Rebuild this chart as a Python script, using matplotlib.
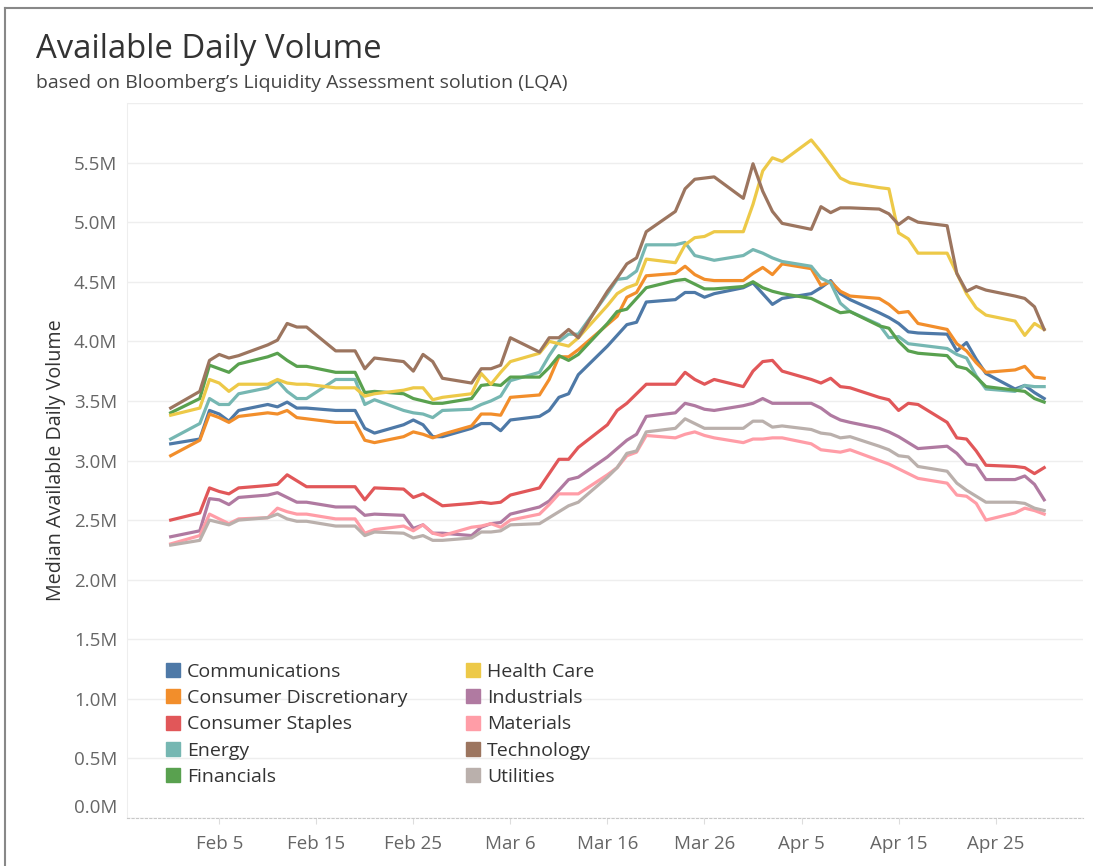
import numpy as np
import pandas as pd
import matplotlib
matplotlib.use("Agg")
import matplotlib.pyplot as plt
import matplotlib.transforms as mtransforms
from matplotlib.lines import Line2D

# business days, Jan 31 - Apr 30 2020
dates = pd.bdate_range("2020-01-31", "2020-04-30")

# median available daily volume, in millions
communications = [3.14, 3.18, 3.42, 3.39, 3.33, 3.42, 3.47, 3.45, 3.49, 3.44,
                  3.44, 3.42, 3.42, 3.42, 3.27, 3.23, 3.30, 3.34, 3.30, 3.20,
                  3.20, 3.27, 3.31, 3.31, 3.25, 3.34, 3.37, 3.42, 3.53, 3.56,
                  3.72, 3.96, 4.05, 4.14, 4.16, 4.33, 4.35, 4.41, 4.41, 4.37,
                  4.40, 4.45, 4.49, 4.40, 4.31, 4.36, 4.40, 4.45, 4.51, 4.40,
                  4.35, 4.24, 4.20, 4.15, 4.08, 4.07, 4.06, 3.92, 3.99, 3.85,
                  3.73, 3.60, 3.63, 3.57, 3.52]
consumer_disc = [3.04, 3.17, 3.39, 3.36, 3.32, 3.37, 3.40, 3.39, 3.42, 3.36,
                 3.35, 3.32, 3.32, 3.32, 3.17, 3.15, 3.20, 3.24, 3.22, 3.19,
                 3.22, 3.29, 3.39, 3.39, 3.38, 3.53, 3.55, 3.68, 3.87, 3.87,
                 3.93, 4.14, 4.21, 4.37, 4.41, 4.55, 4.57, 4.63, 4.56, 4.52,
                 4.51, 4.51, 4.57, 4.62, 4.56, 4.65, 4.61, 4.47, 4.50, 4.42,
                 4.38, 4.36, 4.31, 4.24, 4.25, 4.15, 4.10, 3.98, 3.92, 3.82,
                 3.74, 3.76, 3.79, 3.70, 3.69]
consumer_staples = [2.50, 2.56, 2.77, 2.74, 2.72, 2.77, 2.79, 2.80, 2.88, 2.83,
                    2.78, 2.78, 2.78, 2.78, 2.67, 2.77, 2.76, 2.69, 2.72, 2.67,
                    2.62, 2.64, 2.65, 2.64, 2.65, 2.71, 2.77, 2.89, 3.01, 3.01,
                    3.11, 3.30, 3.42, 3.48, 3.56, 3.64, 3.64, 3.74, 3.68, 3.64,
                    3.68, 3.62, 3.75, 3.83, 3.84, 3.75, 3.68, 3.65, 3.69, 3.62,
                    3.61, 3.53, 3.51, 3.42, 3.48, 3.47, 3.32, 3.19, 3.18, 3.08,
                    2.96, 2.95, 2.94, 2.89, 2.94]
energy = [3.18, 3.31, 3.52, 3.47, 3.47, 3.56, 3.61, 3.67, 3.58, 3.52,
          3.52, 3.68, 3.68, 3.68, 3.47, 3.51, 3.42, 3.40, 3.39, 3.36,
          3.42, 3.43, 3.47, 3.50, 3.54, 3.67, 3.74, 3.88, 4.00, 4.06,
          4.06, 4.40, 4.52, 4.53, 4.59, 4.81, 4.81, 4.83, 4.72, 4.70,
          4.68, 4.72, 4.77, 4.74, 4.70, 4.67, 4.63, 4.53, 4.49, 4.32,
          4.25, 4.14, 4.03, 4.04, 3.98, 3.97, 3.94, 3.89, 3.86, 3.71,
          3.60, 3.58, 3.63, 3.62, 3.62]
financials = [3.40, 3.52, 3.80, 3.77, 3.74, 3.81, 3.87, 3.90, 3.84, 3.79,
              3.79, 3.74, 3.74, 3.74, 3.57, 3.58, 3.56, 3.52, 3.50, 3.48,
              3.48, 3.52, 3.63, 3.64, 3.63, 3.70, 3.70, 3.78, 3.88, 3.84,
              3.89, 4.15, 4.25, 4.27, 4.36, 4.45, 4.51, 4.52, 4.48, 4.44,
              4.44, 4.46, 4.50, 4.45, 4.42, 4.40, 4.36, 4.32, 4.28, 4.24,
              4.25, 4.13, 4.11, 4.00, 3.92, 3.90, 3.88, 3.79, 3.77, 3.70,
              3.62, 3.59, 3.58, 3.52, 3.49]
health_care = [3.38, 3.44, 3.68, 3.65, 3.58, 3.64, 3.64, 3.68, 3.65, 3.64,
               3.64, 3.61, 3.61, 3.61, 3.54, 3.56, 3.59, 3.61, 3.61, 3.51,
               3.53, 3.56, 3.73, 3.64, 3.74, 3.83, 3.90, 4.00, 3.98, 3.96,
               4.03, 4.30, 4.40, 4.45, 4.48, 4.69, 4.66, 4.81, 4.87, 4.88,
               4.92, 4.92, 5.15, 5.43, 5.54, 5.51, 5.69, 5.59, 5.48, 5.37,
               5.33, 5.29, 5.28, 4.91, 4.86, 4.74, 4.74, 4.57, 4.40, 4.28,
               4.22, 4.17, 4.05, 4.15, 4.10]
industrials = [2.36, 2.41, 2.68, 2.67, 2.63, 2.69, 2.71, 2.73, 2.69, 2.65,
               2.65, 2.61, 2.61, 2.61, 2.54, 2.55, 2.54, 2.43, 2.46, 2.39,
               2.39, 2.37, 2.44, 2.47, 2.48, 2.55, 2.61, 2.66, 2.75, 2.84,
               2.86, 3.03, 3.10, 3.17, 3.22, 3.37, 3.40, 3.48, 3.46, 3.43,
               3.42, 3.46, 3.48, 3.52, 3.48, 3.48, 3.48, 3.44, 3.38, 3.34,
               3.32, 3.27, 3.24, 3.20, 3.15, 3.10, 3.12, 3.06, 2.97, 2.96,
               2.84, 2.84, 2.87, 2.80, 2.67]
materials = [2.30, 2.37, 2.55, 2.51, 2.47, 2.51, 2.52, 2.60, 2.57, 2.55,
             2.55, 2.51, 2.51, 2.51, 2.39, 2.42, 2.45, 2.41, 2.46, 2.39,
             2.37, 2.44, 2.45, 2.47, 2.44, 2.50, 2.55, 2.63, 2.72, 2.72,
             2.72, 2.88, 2.94, 3.04, 3.07, 3.21, 3.19, 3.22, 3.24, 3.21,
             3.19, 3.15, 3.18, 3.18, 3.19, 3.19, 3.14, 3.09, 3.08, 3.07,
             3.09, 3.00, 2.97, 2.93, 2.89, 2.85, 2.81, 2.71, 2.70, 2.64,
             2.50, 2.56, 2.60, 2.58, 2.55]
technology = [3.44, 3.58, 3.84, 3.89, 3.86, 3.88, 3.97, 4.01, 4.15, 4.12,
              4.12, 3.92, 3.92, 3.92, 3.77, 3.86, 3.83, 3.75, 3.89, 3.83,
              3.69, 3.65, 3.77, 3.77, 3.80, 4.03, 3.91, 4.03, 4.03, 4.10,
              4.03, 4.42, 4.53, 4.65, 4.70, 4.92, 5.09, 5.28, 5.36, 5.37,
              5.38, 5.20, 5.49, 5.26, 5.09, 4.99, 4.94, 5.13, 5.08, 5.12,
              5.12, 5.11, 5.07, 4.98, 5.04, 5.00, 4.97, 4.57, 4.42, 4.46,
              4.43, 4.38, 4.36, 4.29, 4.10]
utilities = [2.29, 2.33, 2.50, 2.48, 2.46, 2.50, 2.52, 2.55, 2.51, 2.49,
             2.49, 2.45, 2.45, 2.45, 2.37, 2.40, 2.39, 2.35, 2.37, 2.33,
             2.33, 2.35, 2.40, 2.40, 2.41, 2.46, 2.47, 2.52, 2.57, 2.62,
             2.65, 2.86, 2.94, 3.06, 3.08, 3.24, 3.27, 3.35, 3.31, 3.27,
             3.27, 3.27, 3.33, 3.33, 3.28, 3.29, 3.26, 3.23, 3.22, 3.19,
             3.20, 3.12, 3.09, 3.04, 3.03, 2.95, 2.91, 2.81, 2.75, 2.70,
             2.65, 2.65, 2.64, 2.60, 2.58]

sectors = ["Communications", "Consumer Discretionary", "Consumer Staples",
           "Energy", "Financials", "Health Care", "Industrials", "Materials",
           "Technology", "Utilities"]
values = [communications, consumer_disc, consumer_staples, energy, financials,
          health_care, industrials, materials, technology, utilities]
colors = ["#4E79A7", "#F28E2B", "#E15759", "#76B7B2", "#59A14F",
          "#EDC948", "#B07AA1", "#FF9DA7", "#9C755F", "#BAB0AC"]

tick_dates = pd.to_datetime(["2020-02-05", "2020-02-15", "2020-02-25", "2020-03-06",
                             "2020-03-16", "2020-03-26", "2020-04-05", "2020-04-15",
                             "2020-04-25"])
tick_labels = ["Feb 5", "Feb 15", "Feb 25", "Mar 6", "Mar 16", "Mar 26",
               "Apr 5", "Apr 15", "Apr 25"]

plt.rcParams["font.family"] = ["Open Sans", "DejaVu Sans"]

fig = plt.figure(figsize=(10.93, 8.66), dpi=100)
ax = fig.add_axes([127 / 1093, 1 - 818 / 866, 956 / 1093, 715 / 866])

for name, vals, col in zip(sectors, values, colors):
    ax.plot(dates, vals, color=col, lw=2.3, label=name)

start = pd.Timestamp("2020-02-05")
ax.set_xlim(start - pd.Timedelta(days=9.5), start + pd.Timedelta(days=89))
ax.set_ylim(0, 6.0)

yt = np.arange(0, 6.01, 0.5)
ax.set_yticks(yt)
ax.set_yticklabels([f"{v:.1f}M" if v < 5.9 else "" for v in yt])
ax.set_xticks(tick_dates)
ax.set_xticklabels(tick_labels)
ax.tick_params(axis="y", length=0, pad=7, labelsize=13.5, labelcolor="#666666")
ax.tick_params(axis="x", length=4, color="#dddddd", pad=8, labelsize=13.5,
               labelcolor="#666666")
ax.grid(axis="y", color="#eeeeee", lw=1)
ax.set_axisbelow(True)

# lift the 0.0M label above the baseline, as in the original
zero_lab = ax.get_yticklabels()[0]
zero_lab.set_transform(zero_lab.get_transform() +
                       mtransforms.ScaledTranslation(0, 0.12, fig.dpi_scale_trans))

for s in ["top", "right"]:
    ax.spines[s].set_visible(False)
ax.spines["left"].set_color("#eeeeee")
ax.spines["bottom"].set_color("#c8c8c8")
ax.spines["bottom"].set_linestyle((0, (2, 2)))

ax.set_ylabel("Median Available Daily Volume", fontsize=14.2, color="#333333",
              labelpad=6)

handles = [Line2D([], [], marker="s", ls="", markersize=9.5, color=c) for c in colors]
ax.legend(handles, sectors, ncol=2, loc="lower left", bbox_to_anchor=(0.03, 0.031),
          frameon=False, fontsize=14, handlelength=0.8, handletextpad=0.3,
          labelspacing=0.43, columnspacing=3.0, borderpad=0, labelcolor="#333333")

fig.text(36 / 1093, 1 - 58 / 866, "Available Daily Volume", fontsize=23.7,
         color="#333333")
fig.text(36 / 1093, 1 - 88 / 866,
         "based on Bloomberg\u2019s Liquidity Assessment solution (LQA)",
         fontsize=14, color="#444444")

# outer frame (top and left)
fig.add_artist(Line2D([5 / 1093, 5 / 1093], [0, 1 - 8 / 866], color="#888888", lw=1.5))
fig.add_artist(Line2D([5 / 1093, 1], [1 - 8 / 866, 1 - 8 / 866], color="#888888", lw=1.5))

fig.savefig("out.png", dpi=100)
